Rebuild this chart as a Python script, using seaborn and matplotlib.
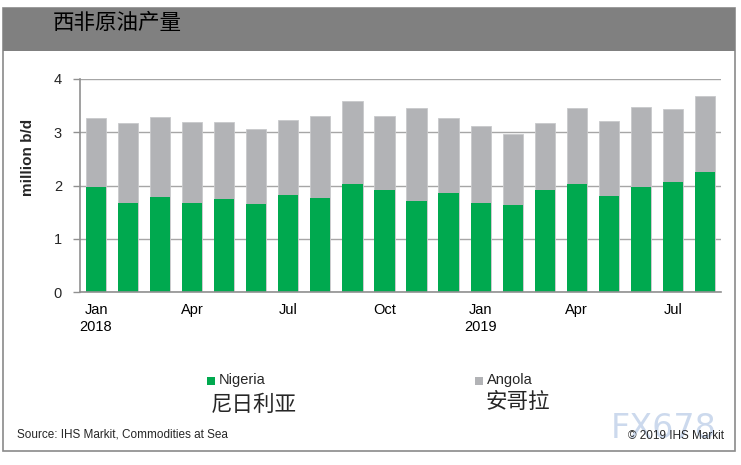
import matplotlib
matplotlib.use("Agg")
import matplotlib.pyplot as plt
import seaborn as sns
import pandas as pd
import numpy as np
from matplotlib.patches import Rectangle

months = ["2018-01", "2018-02", "2018-03", "2018-04", "2018-05", "2018-06", "2018-07",
          "2018-08", "2018-09", "2018-10", "2018-11", "2018-12", "2019-01", "2019-02",
          "2019-03", "2019-04", "2019-05", "2019-06", "2019-07", "2019-08"]
nigeria = [1.97, 1.67, 1.78, 1.68, 1.74, 1.65, 1.82, 1.76, 2.03, 1.91,
           1.70, 1.85, 1.68, 1.63, 1.91, 2.03, 1.80, 1.98, 2.07, 2.26]
angola = [1.30, 1.51, 1.51, 1.52, 1.46, 1.42, 1.41, 1.55, 1.56, 1.40,
          1.76, 1.42, 1.44, 1.34, 1.27, 1.43, 1.41, 1.49, 1.37, 1.42]
tick_labels = ["Jan\n2018", "Apr", "Jul", "Oct", "Jan\n2019", "Apr", "Jul"]
tick_positions = [0, 3, 6, 9, 12, 15, 18]

df = pd.DataFrame({"month": months, "Nigeria": nigeria, "Angola": angola})
df["total"] = df["Nigeria"] + df["Angola"]

sns.set_theme(style="white")
plt.rcParams["font.family"] = ["Liberation Sans", "Noto Sans CJK SC", "DejaVu Sans"]

W, H = 741, 465
fig = plt.figure(figsize=(W / 100, H / 100), dpi=100)
fig.patch.set_facecolor("white")

def fx(px):
    return px / W

def fy(py):
    return 1 - py / H

# outer frame and header band
fig.patches.append(Rectangle((fx(3), fy(451)), fx(735) - fx(3), fy(8) - fy(451),
                             transform=fig.transFigure, facecolor="white",
                             edgecolor="#8a8a8a", linewidth=1.2, zorder=-2))
fig.patches.append(Rectangle((fx(3), fy(51)), fx(735) - fx(3), fy(8) - fy(51),
                             transform=fig.transFigure, facecolor="#808080",
                             edgecolor="none", zorder=-1))
fig.text(fx(53), fy(23), "西非原油产量", fontsize=15.5, color="black",
         family=["Noto Sans CJK SC", "DejaVu Sans"], va="center", ha="left")

ax = fig.add_axes([fx(80), fy(292), fx(721) - fx(80), fy(79) - fy(292)])
ax.set_zorder(5)
ax.patch.set_alpha(0)

green = "#00A94F"
grey = "#B2B3B6"
sns.barplot(data=df, x="month", y="total", color=grey, width=0.63, ax=ax,
            saturation=1, edgecolor="#c8c9cb", linewidth=0.6)
sns.barplot(data=df, x="month", y="Nigeria", color=green, width=0.63, ax=ax,
            saturation=1, linewidth=0)

ax.set_xlim(-0.5, len(months) - 0.5)
ax.set_ylim(0, 4)
ax.set_yticks([0, 1, 2, 3, 4])
ax.set_yticklabels(["0", "1", "2", "3", "4"])
ax.yaxis.grid(True, color="#a6a6a6", linewidth=1.0)
ax.set_axisbelow(True)
ax.set_xticks(tick_positions)
ax.set_xticklabels(tick_labels, linespacing=1.25)
ax.set_xticks(np.arange(-0.5, len(months) + 0.5, 1), minor=True)
ax.tick_params(axis="x", which="major", length=0, pad=8, labelsize=10.5, colors="black")
ax.tick_params(axis="x", which="minor", length=5, width=1, color="#909090", direction="out")
ax.tick_params(axis="y", which="major", length=5, width=1, color="#909090",
               direction="out", pad=8, labelsize=10.5, left=True)
for s in ["top", "right"]:
    ax.spines[s].set_visible(False)
for s in ["left", "bottom"]:
    ax.spines[s].set_color("#909090")
    ax.spines[s].set_linewidth(1.2)
ax.set_xlabel("")
ax.set_ylabel("")
fig.text(fx(28), fy(157), "million b/d", fontsize=11, fontweight="bold",
         rotation=90, va="center", ha="center")

# legend
fig.patches.append(Rectangle((fx(207), fy(385)), fx(8), fy(377) - fy(385),
                             transform=fig.transFigure, facecolor=green, edgecolor="none"))
fig.text(fx(219), fy(380), "Nigeria", fontsize=10.5, va="center", ha="left")
fig.patches.append(Rectangle((fx(475), fy(385)), fx(8), fy(377) - fy(385),
                             transform=fig.transFigure, facecolor=grey, edgecolor="none"))
fig.text(fx(487), fy(380), "Angola", fontsize=10.5, va="center", ha="left")
fig.text(fx(211), fy(405), "尼日利亚", fontsize=15.5, va="center", ha="left",
         family=["Noto Sans CJK SC", "DejaVu Sans"])
fig.text(fx(486), fy(402), "安哥拉", fontsize=15.5, va="center", ha="left",
         family=["Noto Sans CJK SC", "DejaVu Sans"])

# footer
fig.text(fx(17), fy(434), "Source: IHS Markit, Commodities at Sea", fontsize=8.5,
         va="center", ha="left")
fig.text(fx(611), fy(428), "FX678", fontsize=24, color="#c3d3ea", alpha=0.85,
         va="center", ha="left", family=["DejaVu Sans"])
fig.text(fx(724), fy(436), "© 2019 IHS Markit", fontsize=8.5, va="center", ha="right")

fig.savefig("out.png", dpi=100, facecolor="white")
